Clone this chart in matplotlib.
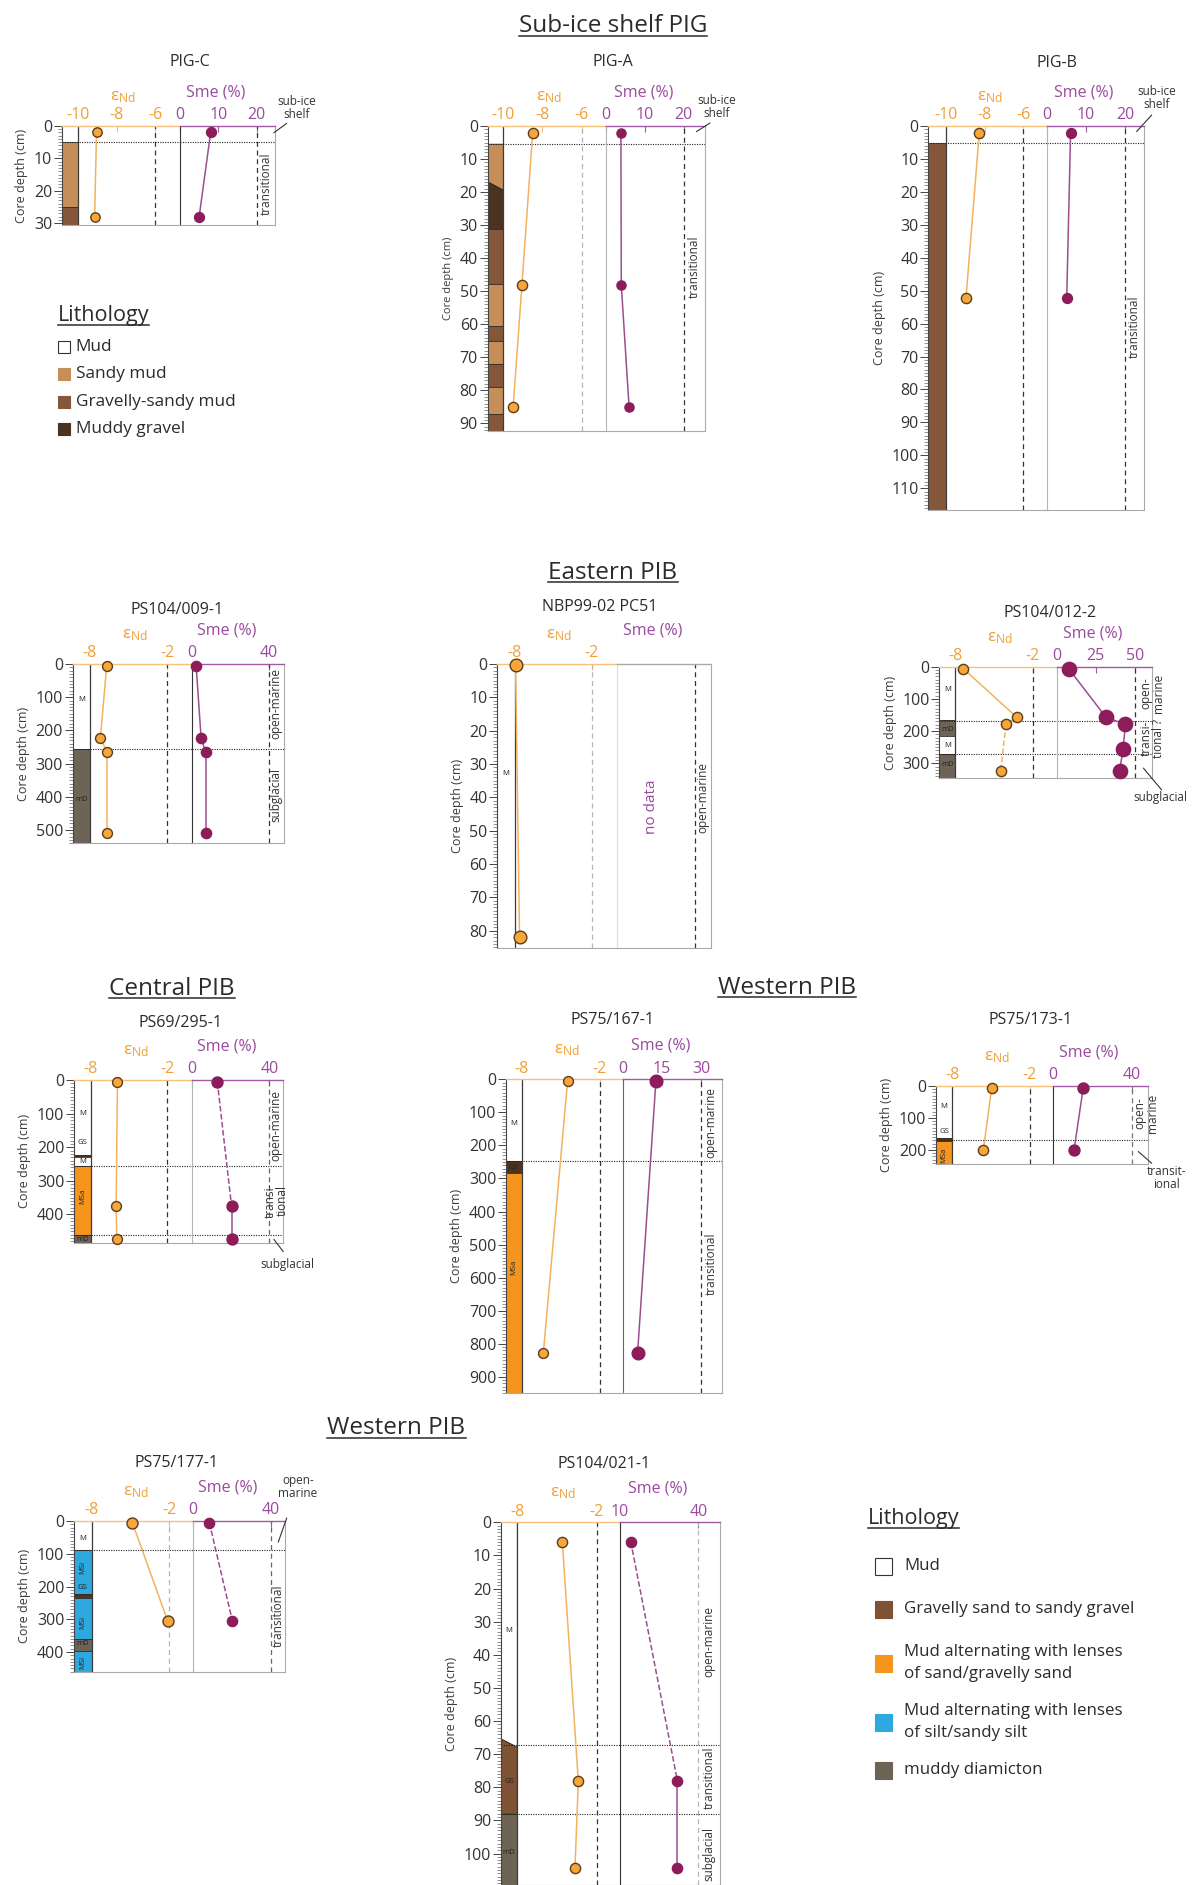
import numpy as np
import matplotlib
matplotlib.use("Agg")
import matplotlib.pyplot as plt
from matplotlib.ticker import MultipleLocator
from matplotlib.lines import Line2D
from matplotlib.patches import Rectangle

plt.rcParams['font.family'] = ['Open Sans', 'DejaVu Sans']
plt.rcParams['mathtext.fontset'] = 'custom'
plt.rcParams['mathtext.rm'] = 'Open Sans'
plt.rcParams['mathtext.it'] = 'Open Sans:italic'
plt.rcParams['axes.unicode_minus'] = False

# ---------------- data ----------------
# Sub-ice shelf PIG
pigc_nd_depth = [2, 28]
pigc_nd = [-9.05, -9.15]
pigc_sme_depth = [2, 28]
pigc_sme = [8.0, 5.0]
pigc_lith_edges = [5, 25, 30.6]
pigc_lith = ['sandy', 'gsm']

piga_nd_depth = [2, 48, 85]
piga_nd = [-8.5, -9.05, -9.5]
piga_sme_depth = [2, 48, 85]
piga_sme = [3.9, 4.0, 6.0]
piga_lith_edges = [5.5, (16.9, 19.4), 31.3, 47.9, 60.5, 65.0, 72.1, 78.9, 87.0, 92.2]
piga_lith = ['sandy', 'mg', 'gsm', 'sandy', 'gsm', 'sandy', 'gsm', 'sandy', 'gsm']

pigb_nd_depth = [2, 52.3]
pigb_nd = [-8.28, -8.97]
pigb_sme_depth = [2, 52.3]
pigb_sme = [6.0, 5.0]
pigb_lith_edges = [5.1, 116.6]
pigb_lith = ['gsm']

# Eastern PIB
p009_nd_depth = [5, 224, 266, 508]
p009_nd = [-6.7, -7.2, -6.65, -6.65]
p009_sme_depth = [5, 224, 266, 508]
p009_sme = [2.3, 4.9, 7.3, 7.3]
p009_lith_edges = [0, 256, 540]
p009_lith = ['mud', 'md']
p009_lith_labels = [(108, 'M'), (408, 'mD')]

nbp_nd_depth = [0.3, 82]
nbp_nd = [-7.95, -7.64]
nbp_lith_edges = [0, 85.3]
nbp_lith = ['mud']
nbp_lith_labels = [(33, 'M')]

p012_nd_depth = [6, 157, 179, 323]
p012_nd = [-7.38, -3.24, -4.07, -4.48]
p012_sme_depth = [6, 157, 179, 256.6, 323]
p012_sme = [7.6, 31.5, 43.9, 42.4, 40.2]
p012_lith_edges = [0, 167, 214, 272, 346.6]
p012_lith = ['mud', 'md', 'mud', 'md']
p012_lith_labels = [(72, 'M'), (196, 'mD'), (246, 'M'), (305, 'mD')]

# Central PIB
p295_nd_depth = [5, 375, 474]
p295_nd = [-5.9, -6.0, -5.95]
p295_sme_depth = [5, 375, 474]
p295_sme = [13.0, 20.4, 20.4]
p295_lith_edges = [0, 222, 228, 256, 462, 484]
p295_lith = ['mud', 'gsd', 'mud', 'msa', 'md']
p295_lith_labels = [(99, 'M'), (187, 'GS'), (243, 'M'), (347, 'MSa'), (474, 'mD')]

# Western PIB
p167_nd_depth = [5, 829]
p167_nd = [-4.48, -6.34]
p167_sme_depth = [5, 829]
p167_sme = [12.6, 5.5]
p167_lith_edges = [0, 248, 282, 950]
p167_lith = ['mud', 'gsd', 'msa']
p167_lith_labels = [(135, 'M'), (266, 'GS'), (568, 'MSa')]

p173_nd_depth = [5, 200]
p173_nd = [-4.96, -5.6]
p173_sme_depth = [5, 200]
p173_sme = [15.3, 10.6]
p173_lith_edges = [0, 162, 172, 245]
p173_lith = ['mud', 'gsd', 'msa']
p173_lith_labels = [(65, 'M'), (141, 'GS'), (216, 'MSa')]

p177_nd_depth = [5, 305]
p177_nd = [-4.86, -2.13]
p177_sme_depth = [5, 305]
p177_sme = [8.3, 20.2]
p177_lith_edges = [0, 88, 222, 236, 360, 396, 460]
p177_lith = ['mud', 'msi', 'gsd', 'msi', 'md', 'msi']
p177_lith_labels = [(54, 'M'), (141, 'MSi'), (202, 'GS'), (309, 'MSi'), (373, 'mD'), (432, 'MSi')]

p021_nd_depth = [5.8, 78.1, 104.3]
p021_nd = [-4.6, -3.39, -3.64]
p021_sme_depth = [5.8, 78.1, 104.3]
p021_sme = [14.1, 32.0, 32.0]
p021_lith_edges = [0, (65.4, 67.9), 88.1, 109.5]
p021_lith = ['mud', 'gs', 'md']
p021_lith_labels = [(32.7, 'M'), (78.3, 'GS'), (99.6, 'mD')]

legend1_kinds = ['mud', 'sandy', 'gsm', 'mg']
legend1_labels = ['Mud', 'Sandy mud', 'Gravelly-sandy mud', 'Muddy gravel']
legend2_kinds = ['mud', 'gs', 'msa', 'msi', 'md']
legend2_labels = ['Mud', 'Gravelly sand to sandy gravel',
                  'Mud alternating with lenses\nof sand/gravelly sand',
                  'Mud alternating with lenses\nof silt/sandy silt', 'muddy diamicton']

# ---------------- styles ----------------
LITH = {'mud': 'white', 'sandy': '#C68E58', 'gsm': '#85573A', 'mg': '#4A3320',
        'gs': '#7E5234', 'gsd': '#4E3420', 'msa': '#F7941E', 'msi': '#2EA9DF',
        'md': '#6D6356'}
ND_FACE, ND_EDGE, ND_LINE = '#F7A63B', '#5C3D17', '#F4B25E'
ND_TXT, ND_AXIS = '#F0A035', '#F6C17B'
SME_FACE, SME_LINE = '#8C1C5A', '#9B4E8E'
SME_TXT, SME_AXIS = '#9A4A9E', '#A05AA5'
DARK, LIGHT, TXT = '#333333', '#B5B5B5', '#2b2b2b'

W, H = 1198, 1885
fig = plt.figure(figsize=(W / 100, H / 100), dpi=100)


def series(a, vals, depth, styles, lc, fc, ec, ms):
    if not vals:
        return
    styles = styles or ['-'] * (len(vals) - 1)
    for i, s in enumerate(styles):
        a.plot(vals[i:i + 2], depth[i:i + 2], color=lc, lw=1.1, ls=s, zorder=3)
    a.plot(vals, depth, ls='none', marker='o', ms=ms * 0.72 * 1.1, mfc=fc, mec=ec,
           mew=1.0, clip_on=False, zorder=5)


def draw_core(box, title, title_xy, nd_lim, nd_ticks, sme_lim, sme_ticks, sme_dash,
              depth_max, dep_step, nd_depth, nd_vals, sme_depth, sme_vals,
              lith_edges, lith_kinds, lith_labels, bounds, zones,
              nd_styles=None, sme_styles=None, nd_dash_c=DARK, sme_dash_c=DARK,
              sme0_c=DARK, ms_nd=9.3, ms_sme=9.3, ylab_size=9, zone_frac=0.5,
              sme_top_c=SME_AXIS):
    x0, xs, x1, top, bot = box
    h = (bot - top) / H
    ax = fig.add_axes([x0 / W, 1 - bot / H, (xs - x0) / W, h])
    bx = fig.add_axes([xs / W, 1 - bot / H, (x1 - xs) / W, h], sharey=ax)
    ax.set_xlim(*nd_lim)
    bx.set_xlim(*sme_lim)
    ax.set_ylim(depth_max, 0)

    # lithology column
    xl, xr = nd_lim[0], nd_ticks[0]
    for i, kind in enumerate(lith_kinds):
        t, b = lith_edges[i], lith_edges[i + 1]
        tl, tr = t if isinstance(t, tuple) else (t, t)
        bl, br = b if isinstance(b, tuple) else (b, b)
        ax.fill([xl, xr, xr, xl], [tl, tr, br, bl], facecolor=LITH[kind],
                edgecolor='#2a2018', lw=0.5, zorder=1)
    for d, lab in lith_labels:
        ax.text((xl + xr) / 2, d, lab, fontsize=5.5, color='#222', ha='center',
                va='center', rotation=90 if lab.startswith('MS') else 0, zorder=2)

    ax.axvline(xr, color='#3c3c3c', lw=0.9, zorder=2)
    ax.axvline(nd_ticks[-1], color=nd_dash_c, lw=0.9, ls=(0, (4, 3)), zorder=2)
    bx.axvline(sme_dash, color=sme_dash_c, lw=0.9, ls=(0, (4, 3)), zorder=2)
    for b in bounds:
        for a in (ax, bx):
            a.axhline(b, color='#222', lw=0.8, ls=(0, (1, 1.2)), zorder=2.5)

    series(ax, nd_vals, nd_depth, nd_styles, ND_LINE, ND_FACE, ND_EDGE, ms_nd)
    series(bx, sme_vals, sme_depth, sme_styles, SME_LINE, SME_FACE, SME_FACE, ms_sme)

    # depth ruler
    ax.yaxis.set_major_locator(MultipleLocator(dep_step))
    ax.yaxis.set_minor_locator(MultipleLocator(dep_step / 10))
    ax.tick_params(axis='y', which='major', direction='out', length=6, width=0.7,
                   color='#444', labelsize=11.5, labelcolor='#333', pad=1)
    ax.tick_params(axis='y', which='minor', direction='out', length=3, width=0.5,
                   color='#666')
    bx.tick_params(axis='y', which='both', left=False, labelleft=False)
    ax.set_ylabel('Core depth (cm)', fontsize=ylab_size, color='#3a3a3a', labelpad=4)

    # top scales
    for a, ticks, col, axc in ((ax, nd_ticks, ND_TXT, ND_AXIS), (bx, sme_ticks, SME_TXT, sme_top_c)):
        a.xaxis.tick_top()
        a.set_xticks(ticks)
        a.set_xticklabels([str(int(t)) for t in ticks])
        a.tick_params(axis='x', direction='in', length=4, width=0.8, color=axc,
                      labelsize=11.5, labelcolor=col, pad=2)
        a.spines['top'].set_color(axc)
        a.spines['top'].set_linewidth(1.0)
        a.spines['bottom'].set_color('#aaaaaa')
        a.spines['bottom'].set_linewidth(0.8)
    ax.spines['right'].set_visible(False)
    ax.spines['left'].set_color('#444')
    ax.spines['left'].set_linewidth(0.8)
    bx.spines['left'].set_color(sme0_c)
    bx.spines['left'].set_linewidth(0.8)
    bx.spines['right'].set_color('#aaaaaa')
    bx.spines['right'].set_linewidth(0.8)

    ax.annotate(r'$\mathrm{ε}_{\mathrm{Nd}}$', xy=(0.52, 1), xycoords='axes fraction',
                xytext=(0, 21), textcoords='offset points', ha='center', va='center',
                color=ND_TXT, fontsize=12.5)
    bx.annotate('Sme (%)', xy=(0.38, 1), xycoords='axes fraction', xytext=(0, 24),
                textcoords='offset points', ha='center', va='center', color=SME_TXT,
                fontsize=11.5)
    fig.text(title_xy[0] / W, 1 - title_xy[1] / H, title, ha='center', va='center',
             fontsize=11.5, color=TXT)

    zx = sme_dash + zone_frac * (sme_lim[1] - sme_dash)
    for d, txt in zones:
        bx.text(zx, d, txt, rotation=90, ha='center', va='center', fontsize=8.5,
                color='#333', linespacing=0.95, clip_on=False)
    return ax, bx


def callout(a, xy, end_px, label, text_px, ha='center'):
    a.annotate('', xy=xy, xycoords='data', xytext=(end_px[0], H - end_px[1]),
               textcoords='figure pixels',
               arrowprops=dict(arrowstyle='-', color='#333', lw=0.8, shrinkA=0, shrinkB=0))
    fig.text(text_px[0] / W, 1 - text_px[1] / H, label, ha=ha, va='center',
             fontsize=8.5, color='#333', linespacing=0.95, multialignment='center')


# ---------------- panels ----------------
_, bx = draw_core((62, 180, 275, 126, 225), 'PIG-C', (190, 62), (-10.85, -4.70), [-10, -8, -6],
                  (0, 24.8), [0, 10, 20], 20, 30.6, 10,
                  pigc_nd_depth, pigc_nd, pigc_sme_depth, pigc_sme,
                  pigc_lith_edges, pigc_lith, [], [5], [(17.8, 'transitional')], ms_nd=8.5, ms_sme=9)
callout(bx, (24.5, 2.1), (286.7, 123.3), 'sub-ice\nshelf', (277, 108), ha='left')

_, bx = draw_core((487.7, 605.7, 705, 126, 430.7), 'PIG-A', (613, 62), (-10.8, -4.77), [-10, -8, -6],
                  (0, 25.5), [0, 10, 20], 20, 92.2, 10,
                  piga_nd_depth, piga_nd, piga_sme_depth, piga_sme,
                  piga_lith_edges, piga_lith, [], [5.5], [(42.6, 'transitional')],
                  nd_dash_c=LIGHT, sme0_c=LIGHT, ms_sme=8.3, ylab_size=8)
callout(bx, (23.3, 1.7), (710, 123), 'sub-ice\nshelf', (697, 107), ha='left')

_, bx = draw_core((928.3, 1047.3, 1144, 126, 510), 'PIG-B', (1056.7, 63), (-10.92, -4.76), [-10, -8, -6],
                  (0, 24.9), [0, 10, 20], 20, 116.6, 10,
                  pigb_nd_depth, pigb_nd, pigb_sme_depth, pigb_sme,
                  pigb_lith_edges, pigb_lith, [], [5.1], [(61, 'transitional')],
                  sme0_c=LIGHT, ms_sme=9)
callout(bx, (23.0, 1.7), (1151.7, 115), 'sub-ice\nshelf', (1137, 98), ha='left')

draw_core((72.7, 191.7, 284, 664, 843.3), 'PS104/009-1', (176.7, 610), (-9.34, -0.11), [-8, -2],
          (0, 48), [0, 40], 40, 540, 100,
          p009_nd_depth, p009_nd, p009_sme_depth, p009_sme,
          p009_lith_edges, p009_lith, p009_lith_labels, [256],
          [(118, 'open-marine'), (394, 'subglacial')], ms_nd=9, ms_sme=9.3)

_, bx = draw_core((497.3, 616.7, 710.7, 664, 948.3), 'NBP99-02 PC51', (600, 606.7), (-9.38, -0.04), [-8, -2],
                  (0, 48.3), [], 40, 85.3, 10,
                  nbp_nd_depth, nbp_nd, [], [],
                  nbp_lith_edges, nbp_lith, nbp_lith_labels, [], [(40, 'open-marine')],
                  nd_dash_c=LIGHT, sme0_c='#dddddd', ms_nd=11.5, sme_top_c='#aaaaaa')
bx.text(18.1, 42.8, 'no data', rotation=90, ha='center', va='center', fontsize=11, color=SME_TXT)

_, bx = draw_core((939.3, 1056.7, 1151.7, 666.7, 778.3), 'PS104/012-2', (1050, 613), (-9.24, -0.14), [-8, -2],
                  (0, 60.7), [0, 25, 50], 50, 346.6, 100,
                  p012_nd_depth, p012_nd, p012_sme_depth, p012_sme,
                  p012_lith_edges, p012_lith, p012_lith_labels, [167.6, 272],
                  [(83, 'open-\nmarine'), (222, 'transi-\ntional ?')],
                  nd_styles=['-', '-', '--'], sme0_c=LIGHT, ms_sme=13, zone_frac=1.05)
callout(bx, (55.4, 315), (1161.7, 790), 'subglacial', (1160, 798))

_, bx = draw_core((74, 192.3, 283.3, 1080, 1242.7), 'PS69/295-1', (180, 1023), (-9.3, -0.04), [-8, -2],
                  (0, 47.3), [0, 40], 40, 484, 100,
                  p295_nd_depth, p295_nd, p295_sme_depth, p295_sme,
                  p295_lith_edges, p295_lith, p295_lith_labels, [256, 461.5],
                  [(134, 'open-marine'), (357, 'transi-\ntional')],
                  sme_styles=['--', '-'], sme0_c=LIGHT, sme_dash_c='#666666', ms_nd=9, ms_sme=10)
callout(bx, (42.4, 474), (283.3, 1251.7), 'subglacial', (287, 1264))

draw_core((506, 623.3, 721.7, 1079.3, 1393.3), 'PS75/167-1', (613, 1020), (-9.2, -0.21), [-8, -2],
          (0, 38), [0, 15, 30], 30, 950, 100,
          p167_nd_depth, p167_nd, p167_sme_depth, p167_sme,
          p167_lith_edges, p167_lith, p167_lith_labels, [248],
          [(130, 'open-marine'), (558, 'transitional')], sme0_c='#666666', ms_nd=9, ms_sme=11.5)

_, bx = draw_core((936, 1053.3, 1147.7, 1086, 1164.3), 'PS75/173-1', (1030, 1020), (-9.26, -0.2), [-8, -2],
                  (0, 48.2), [0, 40], 40, 245, 100,
                  p173_nd_depth, p173_nd, p173_sme_depth, p173_sme,
                  p173_lith_edges, p173_lith, p173_lith_labels, [169],
                  [(85, 'open-\nmarine')], sme_dash_c='#777777', ms_sme=10, zone_frac=0.9)
callout(bx, (43.4, 205), (1151.7, 1163.3), 'transit-\nional', (1147, 1178), ha='left')

_, bx = draw_core((74, 193.3, 285, 1521, 1671.7), 'PS75/177-1', (176.7, 1463), (-9.37, -0.15), [-8, -2],
                  (0, 47.4), [0, 40], 40, 460, 100,
                  p177_nd_depth, p177_nd, p177_sme_depth, p177_sme,
                  p177_lith_edges, p177_lith, p177_lith_labels, [88], [(290, 'transitional')],
                  sme_styles=['--'], nd_dash_c=LIGHT, sme0_c=LIGHT, sme_dash_c='#666666',
                  ms_nd=10, ms_sme=9.3)
callout(bx, (43.9, 64.6), (286.7, 1518), 'open-\nmarine', (298, 1487))

draw_core((501, 620, 720, 1522.3, 1885), 'PS104/021-1', (604, 1463.6), (-9.23, -0.24), [-8, -2],
          (10, 48.3), [10, 40], 40, 109.5, 10,
          p021_nd_depth, p021_nd, p021_sme_depth, p021_sme,
          p021_lith_edges, p021_lith, p021_lith_labels, [67.2, 88.1],
          [(36, 'open-marine'), (77, 'transitional'), (100, 'subglacial')],
          sme_styles=['--', '-'], sme_dash_c=LIGHT)

# ---------------- section titles & legends ----------------
underlined = []
for label, (cx, cy) in [('Sub-ice shelf PIG', (613, 24)), ('Eastern PIB', (613, 570)),
                        ('Central PIB', (172, 986)), ('Western PIB', (787, 985)),
                        ('Western PIB', (396.5, 1426))]:
    underlined.append(fig.text(cx / W, 1 - (cy + 8.5) / H, label, ha='center', va='baseline',
                               fontsize=17.5, color=TXT))


def lith_legend(x_title, y_title, x, y_rows, kinds, labels, size, text_dx, fs, lsp):
    t = fig.text(x_title / W, 1 - (y_title + 7.5) / H, 'Lithology', ha='left', va='baseline',
                 fontsize=15.5, color=TXT)
    underlined.append(t)
    for yc, k, lab in zip(y_rows, kinds, labels):
        fig.add_artist(Rectangle((x / W, 1 - (yc + size / 2) / H), size / W, size / H,
                                 transform=fig.transFigure, facecolor=LITH[k],
                                 edgecolor='#333' if k == 'mud' else LITH[k], lw=0.8))
        fig.text((x + text_dx) / W, 1 - yc / H, lab, ha='left', va='center', fontsize=fs,
                 color=TXT, linespacing=lsp)


lith_legend(57.7, 313.6, 57.7, [347, 374.5, 402, 429], legend1_kinds, legend1_labels, 12, 18,
            12.4, 1.05)
lith_legend(867.6, 1516.5, 875, [1566, 1609, 1663, 1722, 1770], legend2_kinds, legend2_labels,
            17, 29, 12.2, 1.5)

fig.canvas.draw()
r = fig.canvas.get_renderer()
for t in underlined:
    bb = t.get_window_extent(r)
    ybase = t.get_position()[1]
    yl = ybase - 3.5 / H
    fig.add_artist(Line2D([bb.x0 / W, bb.x1 / W], [yl, yl], transform=fig.transFigure,
                          color=TXT, lw=1.1))

fig.savefig('out.png', dpi=100)
